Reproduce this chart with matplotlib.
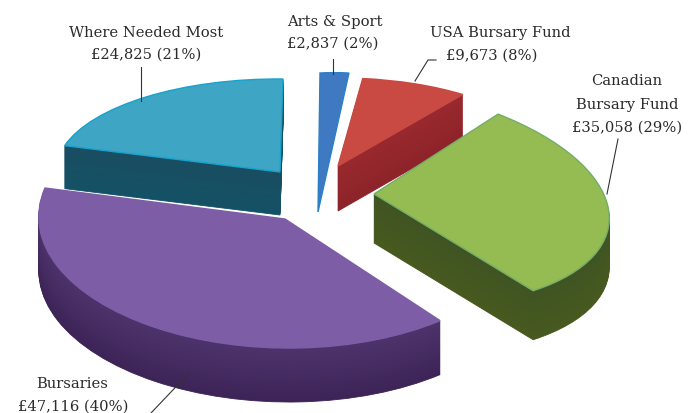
#!/usr/bin/python

import matplotlib
matplotlib.use("Agg")
import matplotlib.pyplot as plt
from matplotlib.transforms import Affine2D


# data
names = ["Arts & Sport", "USA Bursary Fund", "Canadian\nBursary Fund", "Bursaries", "Where Needed Most"]
amounts = [2837, 9673, 35058, 47116, 24825]
amount_labels = ["£2,837 (2%)", "£9,673 (8%)", "£35,058 (29%)", "£47,116 (40%)", "£24,825 (21%)"]

# look of each slice: top colour, outline, side colours (top of the wall, bottom of the wall)
top_colors = ["#3f79c2", "#c84a42", "#95bb53", "#7d5ea6", "#3fa5c4"]
edge_colors = ["#2a80c8", "#c84a42", "#74ae68", "#7d5ea6", "#16a3cc"]
side_top = [(0.20, 0.42, 0.70), (0.60, 0.16, 0.18), (0.25, 0.33, 0.14), (0.30, 0.20, 0.42), (0.10, 0.30, 0.38)]
side_bottom = [(0.20, 0.42, 0.70), (0.55, 0.14, 0.16), (0.28, 0.35, 0.12), (0.24, 0.14, 0.34), (0.08, 0.32, 0.40)]

# perspective of each slice in pixels: a, b, c, d of the squash and the apex x, y
shapes = [
    (195, 2, 10, 139, 318, 213),
    (213, -7, 3, 88, 338, 167),
    (234, -24, -13, 111, 374, 195),
    (246, -10, 3, 129, 285, 220),
    (224, 3, -2, 93, 280, 173),
]
depths = [0, 45, 49, 54, 43]
order = [1, 2, 3, 5, 4]  # back to front is high zorder last
order = [2, 3, 4, 5, 1]

fig = plt.figure(figsize=(6.94, 4.14), dpi=100)
ax = fig.add_axes([0, 0, 1, 1])

# stack of pies, deepest layer first, so that the walls build up
for layer in range(max(depths), -1, -1):
    wedges, _ = ax.pie(amounts, startangle=90, counterclock=False)
    for i, w in enumerate(wedges):
        if layer > depths[i]:
            w.set_visible(False)
            continue
        a, b, c, d, tx, ty = shapes[i]
        tr = Affine2D.from_values(a, -c, b, -d, tx, ty + layer)
        w.set_transform(tr + ax.transData)
        w.set_zorder(order[i] + (max(depths) - layer) * 0.001)
        if layer == 0:
            w.set_facecolor(top_colors[i])
            w.set_edgecolor(edge_colors[i])
            w.set_linewidth(1.0)
        else:
            t = layer / max(depths[i], 1)
            col = [side_top[i][k] * (1 - t) + side_bottom[i][k] * t for k in range(3)]
            w.set_facecolor(col)
            w.set_edgecolor(col)
            w.set_linewidth(0.6)

ax.set_aspect("auto")
ax.set_xlim(0, 694)
ax.set_ylim(414, 0)
ax.axis("off")

# labels and leader lines
font = dict(family="DejaVu Serif", fontsize=10.6, color="#2b2b2b", ha="center", va="center", zorder=10)
ax.text(335, 22, names[0], **font)
ax.text(333, 44, amount_labels[0], **font)
ax.text(500, 33, names[1], **font)
ax.text(492, 56, amount_labels[1], **font)
ax.text(627, 81, names[2].split("\n")[0], **font)
ax.text(627, 105, names[2].split("\n")[1], **font)
ax.text(627, 128, amount_labels[2], **font)
ax.text(72, 384, names[3], **font)
ax.text(73, 407, amount_labels[3], **font)
ax.text(146, 33, names[4], **font)
ax.text(146, 55, amount_labels[4], **font)

line = dict(color="#333333", lw=0.8, zorder=9)
ax.plot([333, 333], [60, 75], **line)
ax.plot([436, 428, 415], [61, 61, 82], **line)
ax.plot([618, 607], [140, 195], **line)
ax.plot([190, 151], [373, 414], **line)
ax.plot([141, 141], [68, 102], **line)

fig.savefig("out.png", dpi=100)
